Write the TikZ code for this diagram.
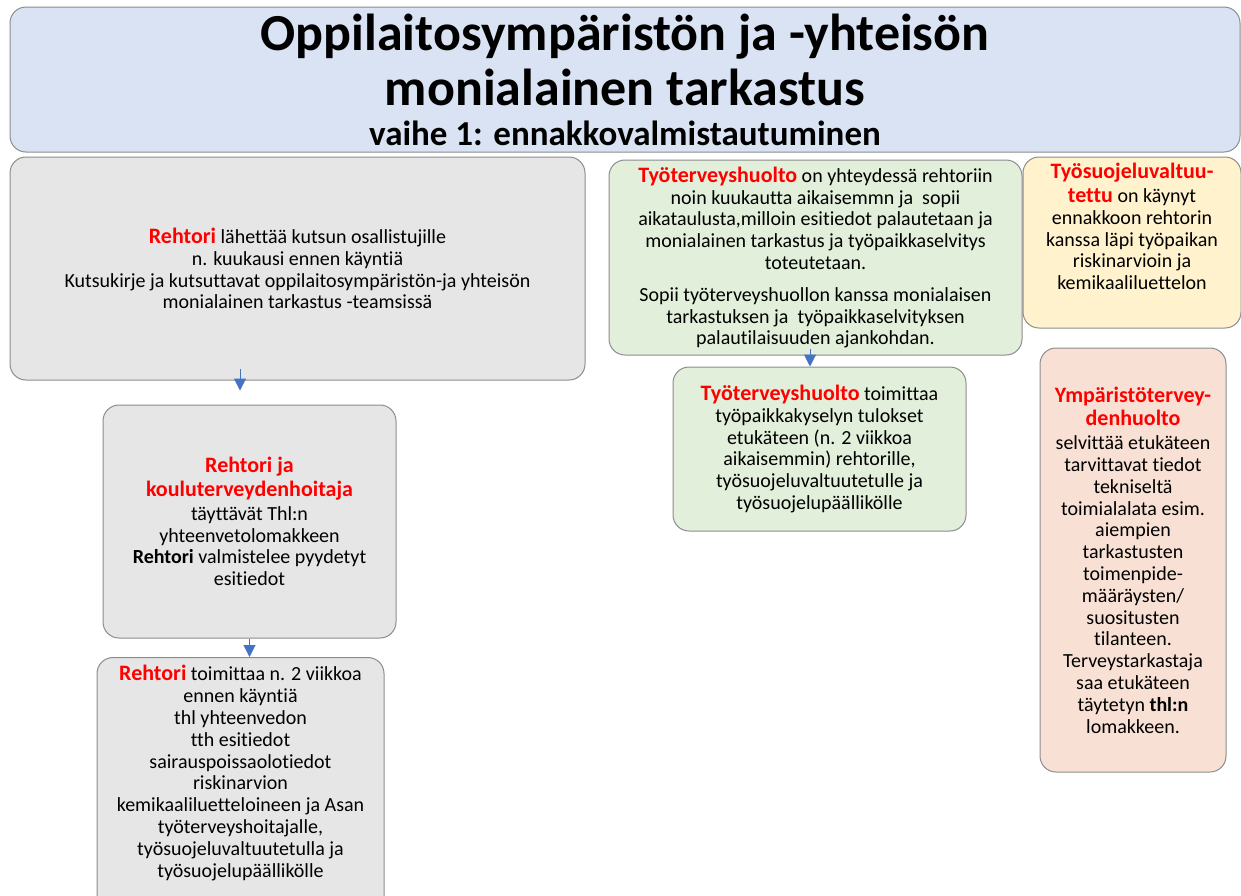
\documentclass[tikz,border=0pt]{standalone}
\usepackage{fontspec}
\setmainfont[Ligatures={NoCommon}]{Carlito}
\usepackage{xcolor}
\usetikzlibrary{positioning,calc,arrows.meta}

\definecolor{titlefill}{HTML}{DAE3F3}
\definecolor{greyfill}{HTML}{E6E6E6}
\definecolor{greenfill}{HTML}{E2EFDA}
\definecolor{yellowfill}{HTML}{FFF2CC}
\definecolor{peachfill}{HTML}{F8E1D4}
\definecolor{edge}{HTML}{8C8C8C}
\definecolor{flowblue}{HTML}{4472C4}

\newcommand{\who}[1]{{\fontsize{11}{12}\selectfont\bfseries\color{red}#1}}
\newcommand{\subline}{\fontsize{17.5}{20}\selectfont}

\begin{document}
\begin{tikzpicture}[x=0.5pt,y=-0.5pt,
				panel/.style={rectangle, rounded corners=8pt, draw=edge, line width=0.5pt, align=center, inner sep=2pt, font=\fontsize{10}{10.9}\selectfont},
				heading/.style={panel, fill=titlefill, font=\bfseries\fontsize{26}{27.5}\selectfont},
				greybox/.style={panel, fill=greyfill},
				greenbox/.style={panel, fill=greenfill},
				yellowbox/.style={panel, fill=yellowfill},
				peachbox/.style={panel, fill=peachfill},
				flow/.style={draw=flowblue, line width=0.5pt, -{Triangle[length=6pt,width=6pt]}}
				]
				\clip (0,0) rectangle (1241,895);
				
				\node[heading, minimum width=615pt, minimum height=72.5pt] (title) at (625,79.5) {
					Oppilaitosympäristön ja -yhteisön\\
					monialainen tarkastus\\[-7.5pt]
					\subline vaihe 1: ennakkovalmistautuminen
				};
				
				% vasen sarake: rehtori
				\node[greybox, minimum width=287.5pt, minimum height=111.5pt] (invite) at (297.5,268.5) {
					\who{Rehtori} lähettää kutsun osallistujille\\
					n. kuukausi ennen käyntiä\\
					Kutsukirje ja kutsuttavat oppilaitosympäristön-ja yhteisön\\
					monialainen tarkastus -teamsissä
				};
				\node[greybox, minimum width=146.5pt, minimum height=116.5pt] (forms) at (249.5,521.5) {
					\who{Rehtori ja}\\[1pt]
					\who{kouluterveydenhoitaja}\\[1pt]
					täyttävät Thl:n\\
					yhteenvetolomakkeen\\
					\textbf{Rehtori} valmistelee pyydetyt\\
					esitiedot
				};
				\node[greybox, minimum width=143.5pt, anchor=north, inner ysep=4pt, text depth=15pt] (deliver) at (240.5,657) {
					\who{Rehtori} toimittaa n. 2 viikkoa\\
					ennen käyntiä\\
					thl yhteenvedon\\
					tth esitiedot\\
					sairauspoissaolotiedot\\
					riskinarvion\\
					kemikaaliluetteloineen ja Asan\\
					työterveyshoitajalle,\\
					työsuojeluvaltuutetulla ja\\
					työsuojelupäällikölle
				};
				
				% keskisarake: työterveyshuolto
				\node[greenbox, minimum width=206.5pt, minimum height=97.5pt] (occhealth) at (815.5,257.5) {
					\who{Työterveyshuolto} on yhteydessä rehtoriin\\
					noin kuukautta aikaisemmn ja\ \ sopii\\
					aikataulusta,milloin esitiedot palautetaan ja\\
					monialainen tarkastus ja työpaikkaselvitys\\
					toteutetaan.\\[5pt]
					Sopii työterveyshuollon kanssa monialaisen\\
					tarkastuksen ja\ \ työpaikkaselvityksen\\
					palautilaisuuden ajankohdan.
				};
				\node[greenbox, minimum width=146.5pt, minimum height=82pt] (survey) at (819.5,449) {
					\who{Työterveyshuolto} toimittaa\\
					työpaikkakyselyn tulokset\\
					etukäteen (n. 2 viikkoa\\
					aikaisemmin) rehtorille,\\
					työsuojeluvaltuutetulle ja\\
					työsuojelupäällikölle
				};
				
				% oikea sarake
				\node[yellowbox, minimum width=109pt, minimum height=85.5pt, text depth=16pt] (safety) at (1132,242.5) {
					\who{Työsuojeluvaltuu-}\\[1pt]
					\who{tettu} on käynyt\\
					ennakkoon rehtorin\\
					kanssa läpi työpaikan\\
					riskinarvioin ja\\
					kemikaaliluettelon
				};
				\node[peachbox, minimum width=93pt, minimum height=212pt] (envhealth) at (1133,560) {
					\who{Ympäristötervey-}\\[1pt]
					\who{denhuolto}\\[1pt]
					selvittää etukäteen\\
					tarvittavat tiedot\\
					tekniseltä\\
					toimialalata esim.\\
					aiempien\\
					tarkastusten\\
					toimenpide-\\
					määräysten/\\
					suositusten\\
					tilanteen.\\
					Terveystarkastaja\\
					saa etukäteen\\
					täytetyn \textbf{thl:n}\\
					lomakkeen.
				};
				
				\draw[flow] ([xshift=-28.75pt,yshift=6pt]invite.south) -- ([xshift=-4.75pt,yshift=7pt]forms.north);
				\draw[flow] (forms.south) -- (forms.south |- deliver.north);
				\draw[flow] ([xshift=-2.75pt,yshift=3.5pt]occhealth.south) -- ([xshift=-4.75pt]survey.north);
			\end{tikzpicture}
\end{document}
